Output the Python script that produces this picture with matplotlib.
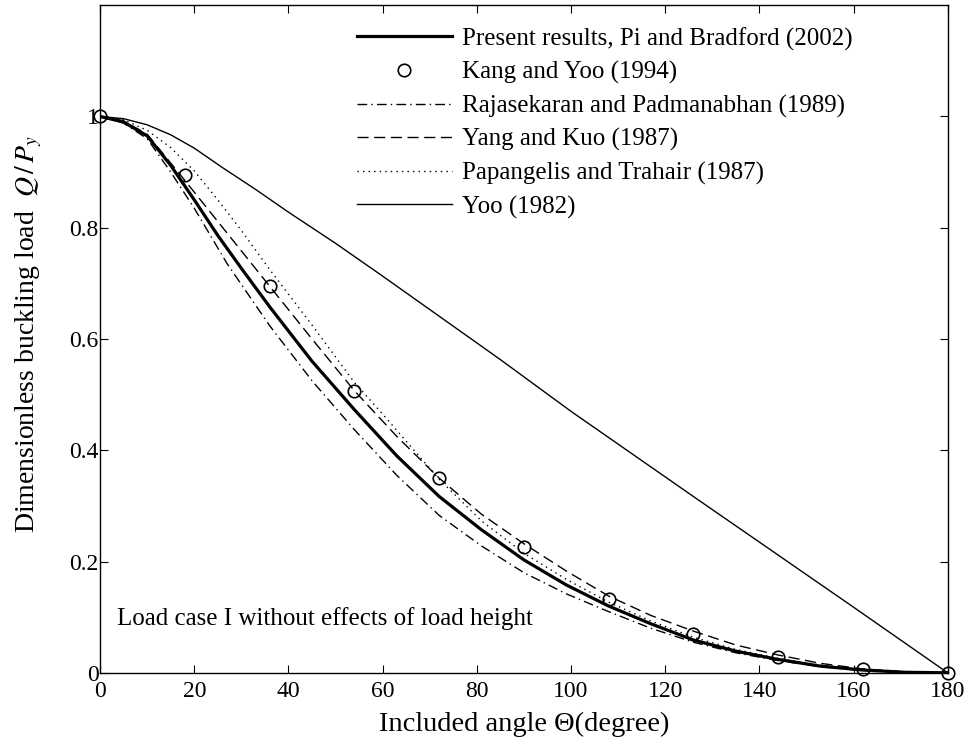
import numpy as np
import matplotlib
matplotlib.use('Agg')
import matplotlib.pyplot as plt

plt.rcParams['font.family'] = ['Liberation Serif', 'DejaVu Serif']
plt.rcParams['mathtext.fontset'] = 'stix'

# ---------------- data ----------------
# Present results, Pi and Bradford (2002)
x_pb = [0, 5, 10, 15, 20, 25, 30, 36, 45, 54, 63, 72, 81, 90, 99, 108, 117, 126, 135, 144, 153, 162, 171, 180]
y_pb = [1.0, 0.99, 0.965, 0.912, 0.85, 0.786, 0.727, 0.658, 0.56, 0.473, 0.39, 0.317, 0.257, 0.203,
        0.158, 0.120, 0.088, 0.059, 0.039, 0.024, 0.012, 0.005, 0.001, 0.0]

# Kang and Yoo (1994)
x_ky = [0, 18, 36, 54, 72, 90, 108, 126, 144, 162, 180]
y_ky = [1.0, 0.894, 0.696, 0.507, 0.351, 0.227, 0.133, 0.069, 0.028, 0.006, 0.0]

# Rajasekaran and Padmanabhan (1989)
x_rp = [0, 5, 10, 15, 20, 27, 36, 45, 54, 63, 72, 81, 90, 99, 108, 117, 126, 135, 144, 153, 162, 171, 180]
y_rp = [1.0, 0.988, 0.96, 0.9, 0.835, 0.735, 0.624, 0.525, 0.437, 0.355, 0.283, 0.228, 0.18, 0.142,
        0.11, 0.08, 0.055, 0.036, 0.022, 0.011, 0.004, 0.001, 0.0]

# Yang and Kuo (1987)
x_yk = [0, 5, 10, 18, 27, 36, 45, 54, 63, 72, 81, 90, 99, 108, 117, 126, 135, 144, 153, 162, 171, 180]
y_yk = [1.0, 0.992, 0.968, 0.885, 0.79, 0.695, 0.6, 0.507, 0.425, 0.35, 0.285, 0.232, 0.183, 0.138,
        0.103, 0.075, 0.05, 0.032, 0.017, 0.007, 0.002, 0.0]

# Papangelis and Trahair (1987)
x_pt = [0, 5, 10, 15, 20, 25, 30, 36, 45, 54, 60, 72, 81, 90, 99, 108, 117, 126, 135, 144, 153, 162, 171, 180]
y_pt = [1.0, 0.994, 0.975, 0.944, 0.902, 0.85, 0.795, 0.725, 0.625, 0.522, 0.465, 0.348, 0.273, 0.215,
        0.168, 0.127, 0.093, 0.064, 0.042, 0.026, 0.014, 0.006, 0.001, 0.0]

# Yoo (1982)
x_yoo = [0, 5, 10, 15, 20, 26, 33, 40, 50, 60, 85, 100, 127, 140, 160, 180]
y_yoo = [1.0, 0.996, 0.985, 0.967, 0.943, 0.908, 0.869, 0.828, 0.772, 0.713, 0.563, 0.47, 0.311, 0.235, 0.118, 0.0]

xticks = [0, 20, 40, 60, 80, 100, 120, 140, 160, 180]
yticks = [0, 0.2, 0.4, 0.6, 0.8, 1.0]
ytick_labels = ['0', '0.2', '0.4', '0.6', '0.8', '1']

# ---------------- plot ----------------
fig = plt.figure(figsize=(9.72, 7.41), dpi=100)
ax = fig.add_axes([0.103, 0.092, 0.872, 0.901])

ax.plot(x_pb, y_pb, color='black', lw=2.3, label='Present results, Pi and Bradford (2002)')
ax.plot(x_ky, y_ky, linestyle='none', marker='o', ms=9, mfc='none', mec='black', mew=1.2,
        clip_on=False, zorder=5, label='Kang and Yoo (1994)')
ax.plot(x_rp, y_rp, color='black', lw=1.0, dashes=(7, 3, 1, 3),
        label='Rajasekaran and Padmanabhan (1989)')
ax.plot(x_yk, y_yk, color='black', lw=1.0, dashes=(8, 4), label='Yang and Kuo (1987)')
ax.plot(x_pt, y_pt, color='black', lw=1.0, dashes=(1, 3), label='Papangelis and Trahair (1987)')
ax.plot(x_yoo, y_yoo, color='black', lw=1.0, label='Yoo (1982)')

ax.set_xlim(0, 180)
ax.set_ylim(0, 1.2)
ax.set_xticks(xticks)
ax.set_yticks(yticks)
ax.set_yticklabels(ytick_labels)
ax.tick_params(direction='in', length=6, width=0.8, top=True, right=True, labelsize=17)
ax.tick_params(axis='y', pad=1)
ax.tick_params(axis='x', pad=6)
for s in ax.spines.values():
    s.set_linewidth(1.0)

ax.set_xlabel('Included angle Θ(degree)', fontsize=20.5, labelpad=7)
ax.set_ylabel(r'Dimensionless buckling load  $Q\,/\,P_y$', fontsize=20)
ax.yaxis.set_label_coords(-0.066, 0.508)

ax.text(0.02, 0.072, 'Load case I without effects of load height', transform=ax.transAxes,
        fontsize=18, va='baseline', ha='left')

ax.legend(loc='upper left', bbox_to_anchor=(0.303, 0.967), frameon=False, fontsize=18,
          handlelength=3.8, handletextpad=0.4, labelspacing=0.42, borderpad=0, borderaxespad=0)

fig.savefig('out.png', dpi=100)
